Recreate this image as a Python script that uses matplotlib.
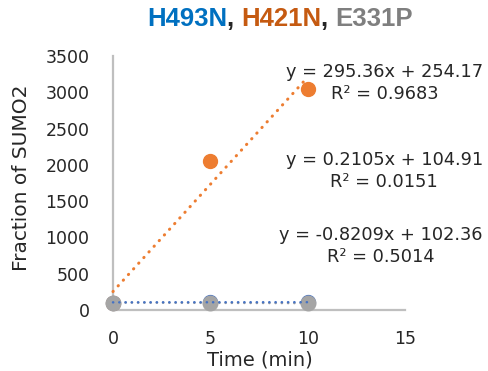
import numpy as np
import matplotlib
matplotlib.use("Agg")
import matplotlib.pyplot as plt

# data
time_min = [0, 5, 10]
h493n = [103, 111.4, 105.1]
h421n = [95, 2050, 3048.5]
e331p = [103, 97.1, 94.8]

title_parts = ["H493N", ", ", "H421N", ", ", "E331P"]
title_colors = ["#0070C0", "#262626", "#C55A11", "#262626", "#7F7F7F"]

eq_h421n = "y = 295.36x + 254.17\nR² = 0.9683"
eq_h493n = "y = 0.2105x + 104.91\nR² = 0.0151"
eq_e331p = "y = -0.8209x + 102.36\nR² = 0.5014"

x_ticks = [0, 5, 10, 15]
y_ticks = [0, 500, 1000, 1500, 2000, 2500, 3000, 3500]

plt.rcParams['font.family'] = ['DejaVu Sans']

fig = plt.figure(figsize=(4.89, 3.71), dpi=100)
ax = fig.add_axes([113/489, 61/371, (405-113)/489, (310-56)/371])

# markers
ax.plot(time_min, h493n, 'o', color='#4472C4', ms=10, clip_on=False, zorder=3)
ax.plot(time_min, h421n, 'o', color='#ED7D31', ms=10, clip_on=False, zorder=3)
ax.plot(time_min, e331p, 'o', color='#A5A5A5', ms=10.5, clip_on=False, zorder=3)

# linear trendlines
xs = np.array([0, 10])
for ys, col, lw in [(e331p, '#A5A5A5', 1.8), (h493n, '#4472C4', 1.8), (h421n, '#ED7D31', 2.2)]:
    k, b = np.polyfit(time_min, ys, 1)
    ax.plot(xs, k * xs + b, color=col, lw=lw, linestyle=(0, (0.1, 2.4)),
            dash_capstyle='round', clip_on=False, zorder=4)

ax.set_xlim(0, 15)
ax.set_ylim(0, 3500)
ax.set_xticks(x_ticks)
ax.set_yticks(y_ticks)
ax.tick_params(length=0, labelsize=12.5, labelcolor='#262626')
ax.tick_params(axis='x', pad=14.5)
ax.tick_params(axis='y', pad=17)
for s in ['top', 'right']:
    ax.spines[s].set_visible(False)
for s in ['left', 'bottom']:
    ax.spines[s].set_color('#BFBFBF')
    ax.spines[s].set_linewidth(1.6)

fig.text(22/489, 1 - 178/371, "Fraction of SUMO2", rotation=90, ha='center', va='center',
         fontsize=14.5, color='#262626')
fig.text(260/489, 1 - 360/371, "Time (min)", ha='center', va='center',
         fontsize=14, color='#262626')

# trendline equations
for txt, yc in [(eq_h421n, 83), (eq_h493n, 171), (eq_e331p, 246)]:
    fig.text(483/489, 1 - yc/371, txt, ha='right', va='center', multialignment='center',
             fontsize=12.8, color='#262626', linespacing=1.35)

# multicolour title
fig.canvas.draw()
r = fig.canvas.get_renderer()
pieces = []
total = 0
for p, c in zip(title_parts, title_colors):
    t = fig.text(0, 1 - 19/371, p, fontsize=18.5, fontweight='bold', color=c,
                 family='Liberation Sans', va='center', ha='left')
    w = t.get_window_extent(r).width
    pieces.append((t, w))
    total += w
x0 = 280 - total / 2
for t, w in pieces:
    t.set_x(x0 / 489)
    x0 += w

fig.savefig("out.png", dpi=100)
